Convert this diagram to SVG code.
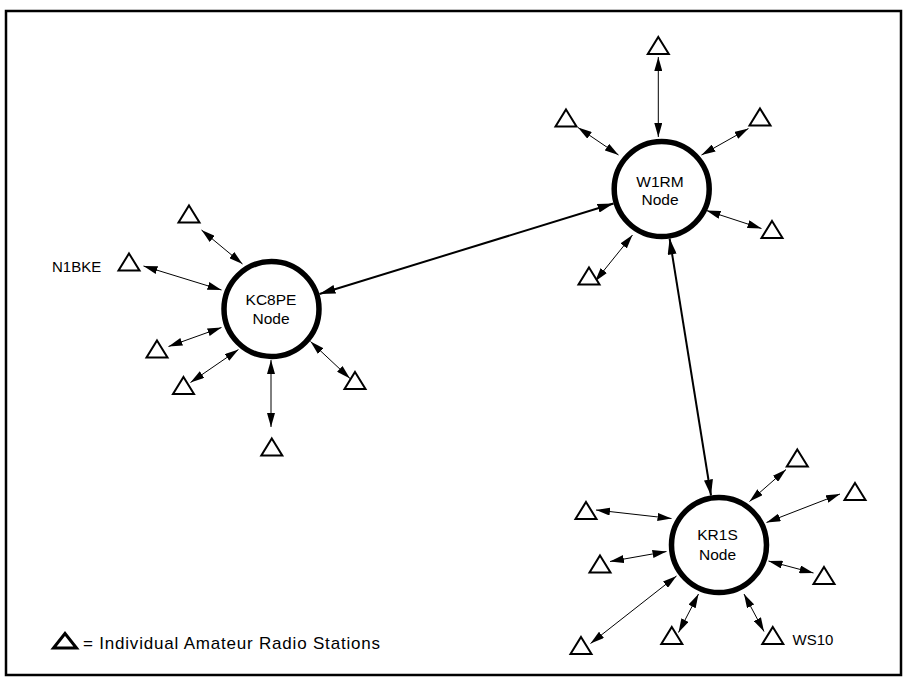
<svg xmlns="http://www.w3.org/2000/svg" xmlns:xlink="http://www.w3.org/1999/xlink" width="905" height="678" viewBox="0 0 905 678">
  <style>
    .frame { fill: none; stroke: #000; stroke-width: 2.5; }
    .hub { fill: #fff; stroke: #000; stroke-width: 5.5; }
    .sta { fill: #fff; stroke: #000; stroke-width: 2; stroke-linejoin: miter; }
    .lk { stroke: #000; stroke-width: 1; fill: none; marker-start: url(#ah); marker-end: url(#ah); }
    .trunk { stroke: #000; stroke-width: 2; fill: none; marker-start: url(#ahb); marker-end: url(#ahb); }
    .lbl { font-family: "Liberation Sans", Arial, sans-serif; font-size: 15.5px; fill: #000; text-anchor: middle; }
    .call { font-family: "Liberation Sans", Arial, sans-serif; font-size: 15px; fill: #000; }
    .legend { font-family: "Liberation Sans", Arial, sans-serif; font-size: 17px; fill: #000; }
  </style>
  <defs>
    <marker id="ah" viewBox="0 0 14 8" refX="14" refY="4" markerWidth="14" markerHeight="8" markerUnits="userSpaceOnUse" orient="auto-start-reverse">
      <path d="M0,0 L14,4 L0,8 Z" fill="#000"/>
    </marker>
    <marker id="ahb" viewBox="0 0 16 9" refX="16" refY="4.5" markerWidth="16" markerHeight="9" markerUnits="userSpaceOnUse" orient="auto-start-reverse">
      <path d="M0,0 L16,4.5 L0,9 Z" fill="#000"/>
    </marker>
    <!-- station symbol, apex at origin -->
    <path id="st" class="sta" d="M0,0 L10.5,17 L-10.5,17 Z"/>
  </defs>

  <rect class="frame" x="6" y="11" width="895" height="664"/>

  <!-- connectors -->
  <g id="connectors">
    <!-- hub-to-hub trunks -->
    <line class="trunk" x1="319.5" y1="294" x2="613.5" y2="203.5"/>
    <line class="trunk" x1="669.6" y1="238.5" x2="711" y2="495.5"/>

    <!-- W1RM stations -->
    <line class="lk" x1="658.3" y1="57" x2="658.3" y2="137"/>
    <line class="lk" x1="578" y1="127.5" x2="618.5" y2="155"/>
    <line class="lk" x1="748.5" y1="128.5" x2="701.5" y2="155"/>
    <line class="lk" x1="706.5" y1="210.5" x2="761.5" y2="228.5"/>
    <line class="lk" x1="632.5" y1="235" x2="595" y2="281.5"/>

    <!-- KC8PE stations -->
    <line class="lk" x1="201.5" y1="230" x2="242.5" y2="264"/>
    <line class="lk" x1="143.5" y1="266" x2="221.5" y2="290"/>
    <line class="lk" x1="168.5" y1="346.5" x2="221.5" y2="327.5"/>
    <line class="lk" x1="190.5" y1="382.5" x2="238.5" y2="349.5"/>
    <line class="lk" x1="271" y1="360" x2="271" y2="427"/>
    <line class="lk" x1="310.5" y1="341.5" x2="350" y2="378.5"/>

    <!-- KR1S stations -->
    <line class="lk" x1="749.5" y1="501.5" x2="786" y2="469.5"/>
    <line class="lk" x1="766.5" y1="522.5" x2="840" y2="494"/>
    <line class="lk" x1="596" y1="510" x2="671.5" y2="518.5"/>
    <line class="lk" x1="610" y1="561.5" x2="666.5" y2="551.5"/>
    <line class="lk" x1="768.5" y1="561" x2="813.5" y2="573"/>
    <line class="lk" x1="590.5" y1="643.5" x2="676.5" y2="576"/>
    <line class="lk" x1="678.5" y1="632.5" x2="698.5" y2="594"/>
    <line class="lk" x1="744" y1="594" x2="764" y2="631.5"/>
  </g>

  <!-- hubs -->
  <g id="hub-w1rm">
    <circle class="hub" cx="661.7" cy="189" r="47.5"/>
    <text class="lbl" x="660" y="186.5">W1RM</text>
    <text class="lbl" x="660" y="205">Node</text>
  </g>
  <g id="hub-kc8pe">
    <circle class="hub" cx="271.5" cy="309" r="47.5"/>
    <text class="lbl" x="271" y="305">KC8PE</text>
    <text class="lbl" x="271" y="324">Node</text>
  </g>
  <g id="hub-kr1s">
    <circle class="hub" cx="719" cy="545" r="47.5"/>
    <text class="lbl" x="717.5" y="540">KR1S</text>
    <text class="lbl" x="717.5" y="560">Node</text>
  </g>

  <!-- W1RM stations -->
  <g id="w1rm-stations">
    <use id="w1rm-s1" xlink:href="#st" href="#st" x="658.3" y="37"/>
    <use id="w1rm-s2" xlink:href="#st" href="#st" x="566" y="109.5"/>
    <use id="w1rm-s3" xlink:href="#st" href="#st" x="760" y="108.5"/>
    <use id="w1rm-s4" xlink:href="#st" href="#st" x="772" y="221"/>
    <use id="w1rm-s5" xlink:href="#st" href="#st" x="589" y="267.5"/>
  </g>

  <!-- KC8PE stations -->
  <g id="kc8pe-stations">
    <use id="kc8pe-s1" xlink:href="#st" href="#st" x="189" y="205.5"/>
    <g id="n1bke">
      <use xlink:href="#st" href="#st" x="129" y="253.5"/>
      <text class="call" x="52" y="271.5">N1BKE</text>
    </g>
    <use id="kc8pe-s3" xlink:href="#st" href="#st" x="157" y="340.5"/>
    <use id="kc8pe-s4" xlink:href="#st" href="#st" x="183.5" y="377"/>
    <use id="kc8pe-s5" xlink:href="#st" href="#st" x="271.8" y="438.5"/>
    <use id="kc8pe-s6" xlink:href="#st" href="#st" x="355" y="372"/>
  </g>

  <!-- KR1S stations -->
  <g id="kr1s-stations">
    <use id="kr1s-s1" xlink:href="#st" href="#st" x="797.3" y="449.5"/>
    <use id="kr1s-s2" xlink:href="#st" href="#st" x="855" y="483"/>
    <use id="kr1s-s3" xlink:href="#st" href="#st" x="586" y="502"/>
    <use id="kr1s-s4" xlink:href="#st" href="#st" x="600" y="555.5"/>
    <use id="kr1s-s5" xlink:href="#st" href="#st" x="824" y="567"/>
    <use id="kr1s-s6" xlink:href="#st" href="#st" x="581" y="637"/>
    <use id="kr1s-s7" xlink:href="#st" href="#st" x="671.8" y="627"/>
    <g id="ws10">
      <use xlink:href="#st" href="#st" x="772.8" y="627"/>
      <text class="call" x="792.5" y="645" font-size="14.5">WS10</text>
    </g>
  </g>

  <!-- legend -->
  <g id="legend">
    <path d="M65,633.5 L76.5,648 L53.5,648 Z" fill="#fff" stroke="#000" stroke-width="3" stroke-linejoin="miter"/>
    <text class="legend" x="83" y="648.5" textLength="297" lengthAdjust="spacing">= Individual Amateur Radio Stations</text>
  </g>
</svg>
